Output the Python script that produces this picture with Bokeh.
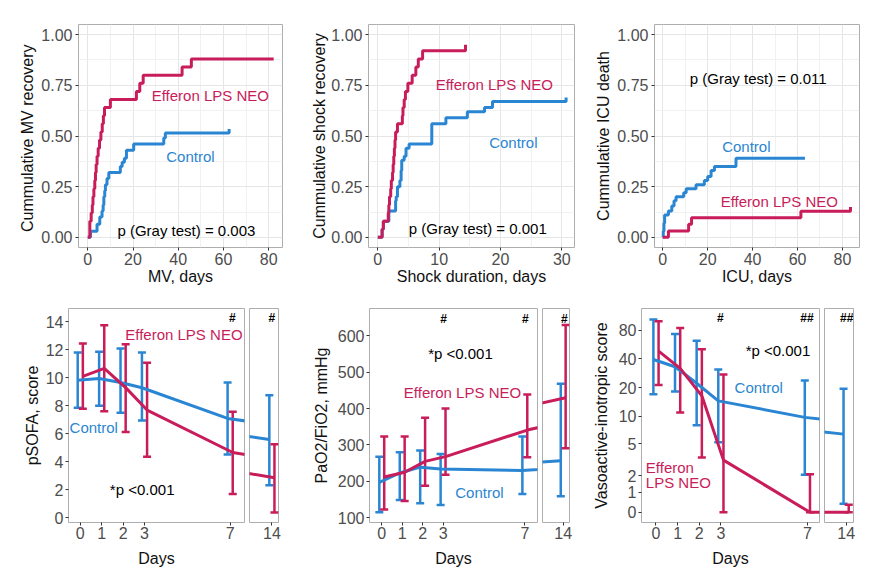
import numpy as np
from bokeh.plotting import figure
from bokeh.models import (FixedTicker, Range1d, Label, Whisker, TeeHead, ColumnDataSource,
                          NumeralTickFormatter, CustomJSTickFormatter)
from bokeh.layouts import row, column
from bokeh.embed import file_html
from bokeh.resources import INLINE

RED = "#C81D5A"
BLUE = "#2A86D2"
FONT = "Liberation Sans"
TICK_COL = "#4D4D4D"
BORDER = "#AEAEAE"

# ---------------- Top row: cumulative incidence (step) data ----------------
mv_eff_t = [0, 0.9, 1.5, 2.0, 2.3, 2.7, 3.1, 3.4, 3.7, 4.1, 4.6, 5.2, 5.8, 6.4, 6.9, 7.4, 10.0, 21.5, 23.0, 24.5, 41.7, 45.8, 82.2]
mv_eff_v = [0, 0.08, 0.12, 0.16, 0.20, 0.24, 0.28, 0.32, 0.36, 0.40, 0.44, 0.48, 0.52, 0.56, 0.60, 0.64, 0.68, 0.72, 0.76, 0.80, 0.84, 0.88, 0.88]
mv_ctl_t = [0, 1.2, 4.1, 5.3, 6.3, 6.8, 7.1, 7.5, 7.8, 8.5, 9.3, 14.4, 15.2, 16.2, 17.1, 20.3, 33.6, 34.3, 62.5]
mv_ctl_v = [0, 0.03, 0.065, 0.10, 0.13, 0.16, 0.20, 0.23, 0.26, 0.29, 0.32, 0.35, 0.37, 0.39, 0.43, 0.46, 0.49, 0.515, 0.535]

sh_eff_t = [0, 0.7, 0.9, 1.7, 1.8, 1.9, 2.1, 2.2, 2.4, 2.5, 2.6, 2.7, 2.8, 2.9, 3.2, 4.0, 4.1, 4.3, 4.5, 4.9, 5.6, 6.2, 6.6, 7.3, 14.3]
sh_eff_v = [0, 0.04, 0.08, 0.12, 0.16, 0.20, 0.24, 0.28, 0.32, 0.36, 0.40, 0.44, 0.48, 0.52, 0.56, 0.60, 0.64, 0.68, 0.72, 0.76, 0.80, 0.84, 0.88, 0.92, 0.95]
sh_ctl_t = [0, 0.7, 0.9, 1.8, 2.9, 3.0, 3.2, 3.6, 3.8, 3.9, 4.3, 4.6, 5.1, 8.8, 11.1, 14.6, 17.4, 18.7, 30.7]
sh_ctl_v = [0, 0.04, 0.08, 0.13, 0.18, 0.20, 0.25, 0.28, 0.33, 0.38, 0.40, 0.44, 0.46, 0.56, 0.59, 0.62, 0.64, 0.67, 0.69]

icu_ctl_t = [0, 0.2, 0.5, 0.8, 2.5, 4.0, 5.0, 5.9, 9.3, 10.4, 14.8, 18.5, 20.0, 21.5, 23.0, 32.6, 63.3]
icu_ctl_v = [0, 0.03, 0.07, 0.11, 0.13, 0.155, 0.18, 0.20, 0.22, 0.24, 0.26, 0.28, 0.30, 0.33, 0.35, 0.39, 0.39]
icu_eff_t = [0, 2.5, 11.5, 12.8, 61.5, 83.6]
icu_eff_v = [0, 0.032, 0.065, 0.097, 0.129, 0.15]

# ---------------- Bottom row: daily mean with error bars ----------------
days = [0, 1, 2, 3, 7, 14]

sofa_ctl = [9.83, 9.95, 9.67, 9.29, 7.1, 5.6]
sofa_ctl_lo = [7.86, 8.0, 7.5, 6.95, 4.52, 2.33]
sofa_ctl_hi = [11.8, 11.86, 12.1, 11.8, 9.67, 8.76]
sofa_eff = [10.1, 10.67, 9.3, 7.7, 4.67, 2.86]
sofa_eff_lo = [7.8, 7.62, 6.14, 4.36, 1.71, 0.38]
sofa_eff_hi = [12.45, 13.76, 12.4, 11.07, 7.57, 5.26]

pf_ctl = [197, 223, 239, 234, 230, 257]
pf_ctl_lo = [115, 149, 140, 135, 165, 159]
pf_ctl_hi = [268, 280, 285, 275, 323, 468]
pf_eff = [212, 225, 255, 268, 341, 430]
pf_eff_lo = [123, 146, 188, 218, 266, 291]
pf_eff_hi = [323, 323, 375, 400, 439, 630]

vis_ctl = [39.4, 33.1, 22.2, 14.5, 9.7, 6.4]
vis_ctl_lo = [17.0, 18.2, 8.0, 5.2, 2.06, 0.41]
vis_ctl_hi = [103, 72.6, 62, 31.0, 23.7, 19.4]
vis_eff = [48.1, 31.8, 16.4, 3.22, 0, 0]
vis_eff_lo = [21.3, 10.9, 3.47, 0, 0, 0]
vis_eff_hi = [99, 83.8, 50.4, 27.5, 2.1, 0.37]

km_y_ticks = [0, 0.25, 0.5, 0.75, 1.0]
km_y_minor = [0.125, 0.375, 0.625, 0.875]
day_ticks_main = [0, 1, 2, 3, 7]
day_ticks_late = [14]
sofa_ticks = [0, 2, 4, 6, 8, 10, 12, 14]
pf_ticks = [100, 200, 300, 400, 500, 600]
vis_tick_labels = [0, 1, 2, 5, 10, 20, 40, 80]


def pslog(v):
    return np.arcsinh(np.asarray(v, dtype=float) / 2.0)


def style(p, xlab=None, ylab=None, ylab_standoff=5, xlab_standoff=0):
    p.outline_line_color = BORDER
    p.outline_line_width = 1
    p.background_fill_color = "white"
    p.border_fill_color = "white"
    for ax in p.axis:
        ax.axis_line_color = None
        ax.major_tick_line_color = "#333333"
        ax.major_tick_out = 3
        ax.major_tick_in = 0
        ax.minor_tick_line_color = None
        ax.major_label_text_font = FONT
        ax.major_label_text_font_size = "16px"
        ax.major_label_text_color = TICK_COL
        ax.major_label_standoff = 2
        ax.axis_label_text_font = FONT
        ax.axis_label_text_font_size = "16px"
        ax.axis_label_text_font_style = "normal"
        ax.axis_label_text_color = "#111111"
    p.xaxis.major_label_standoff = 1
    if xlab is not None:
        p.xaxis.axis_label = xlab
        p.xaxis.axis_label_standoff = xlab_standoff
    if ylab is not None:
        p.yaxis.axis_label = ylab
        p.yaxis.axis_label_standoff = ylab_standoff


def add_label(p, x, y, text, color, size="15px", align="center", bold=False):
    p.add_layout(Label(x=x, y=y, text=text, text_color=color, text_font=FONT,
                       text_font_size=size, text_align=align, text_baseline="middle",
                       text_font_style="bold" if bold else "normal"))


def km_fig(xr, xticks, xminor, xlab, ylab, fw, left, right, curves, labels, standoff):
    p = figure(frame_width=fw, frame_height=223, x_range=Range1d(*xr), y_range=Range1d(-0.05, 1.05),
               toolbar_location=None, output_backend="svg",
               min_border_left=left, min_border_right=right, min_border_top=24, min_border_bottom=45)
    style(p, xlab, ylab, standoff, 0)
    p.xaxis.ticker = FixedTicker(ticks=xticks, minor_ticks=xminor)
    p.yaxis.ticker = FixedTicker(ticks=km_y_ticks, minor_ticks=km_y_minor)
    p.yaxis.formatter = NumeralTickFormatter(format="0.00")
    p.grid.grid_line_color = "#E6E6E6"
    p.grid.grid_line_width = 1
    p.grid.minor_grid_line_color = "#F1F1F1"
    p.grid.minor_grid_line_width = 1
    for t, v, col in curves:
        p.step(t, v, mode="after", line_color=col, line_width=3)
    for (x, y, text, col) in labels:
        add_label(p, x, y, text, col)
    return p


tl = km_fig((-4.1, 86.1), [0, 20, 40, 60, 80], [10, 30, 50, 70], "MV, days", "Cummulative MV  recovery",
            204, 78, 18,
            [(mv_ctl_t, mv_ctl_v, BLUE), (mv_eff_t, mv_eff_v, RED)],
            [(54.2, 0.70, "Efferon LPS NEO", RED), (45.4, 0.40, "Control", BLUE),
             (43.6, 0.036, "p (Gray test) = 0.003", "black")], 2)
tm = km_fig((-1.52, 32.07), [0, 10, 20, 30], [5, 15, 25], "Shock duration, days", "Cummulative shock recovery",
            206, 68, 18,
            [(sh_ctl_t, sh_ctl_v, BLUE), (sh_eff_t, sh_eff_v, RED)],
            [(19.0, 0.755, "Efferon LPS NEO", RED), (22.1, 0.47, "Control", BLUE),
             (16.3, 0.044, "p (Gray test) = 0.001", "black")], 0)
tr = km_fig((-3.7, 87.6), [0, 20, 40, 60, 80], [10, 30, 50, 70], "ICU, days", "Cummulative ICU death",
            205, 58, 22,
            [(icu_ctl_t, icu_ctl_v, BLUE), (icu_eff_t, icu_eff_v, RED)],
            [(42.5, 0.783, "p (Gray test) = 0.011", "black"), (37.2, 0.446, "Control", BLUE),
             (51.9, 0.179, "Efferon LPS NEO", RED)], 2)

DODGE = 0.12


def day_panel(yr, yticks, ylab, ctl, ctl_lo, ctl_hi, eff, eff_lo, eff_hi,
              xr_main, xr_late, fw, fw2, left, right2, standoff, formatter=None):
    common = dict(frame_height=214, y_range=Range1d(*yr), toolbar_location=None, output_backend="svg",
                  min_border_top=16, min_border_bottom=48)
    p = figure(frame_width=fw, x_range=Range1d(*xr_main), min_border_left=left, min_border_right=2, **common)
    q = figure(frame_width=fw2, x_range=Range1d(*xr_late), min_border_left=3, min_border_right=right2,
               y_axis_location=None, **common)
    style(p, "Days", ylab, standoff, 8)
    style(q)
    p.xaxis.ticker = FixedTicker(ticks=day_ticks_main)
    q.xaxis.ticker = FixedTicker(ticks=day_ticks_late)
    p.yaxis.ticker = FixedTicker(ticks=yticks)
    if formatter is not None:
        p.yaxis.formatter = formatter
    for fig in (p, q):
        fig.grid.grid_line_color = None
    d = np.asarray(days, dtype=float)
    for mean, lo, hi, col, off in ((ctl, ctl_lo, ctl_hi, BLUE, -DODGE), (eff, eff_lo, eff_hi, RED, DODGE)):
        x = d + off
        for fig, mask in ((p, d <= 7), (q, d > 7)):
            src = ColumnDataSource(dict(x=x[mask], lo=np.asarray(lo)[mask], hi=np.asarray(hi)[mask]))
            fig.add_layout(Whisker(source=src, base="x", lower="lo", upper="hi",
                                   line_color=col, line_width=2.5,
                                   lower_head=TeeHead(size=8, line_color=col, line_width=2.5),
                                   upper_head=TeeHead(size=8, line_color=col, line_width=2.5)))
            fig.line(x, mean, line_color=col, line_width=3)
    return p, q


# pSOFA
bl, bl2 = day_panel((-0.33, 14.95), sofa_ticks, "pSOFA, score",
                    sofa_ctl, sofa_ctl_lo, sofa_ctl_hi, sofa_eff, sofa_eff_lo, sofa_eff_hi,
                    (-0.55, 7.67), (12.95, 14.31), 176, 29, 68, 22, 2)
add_label(bl, 4.84, 13.1, "Efferon LPS NEO", RED)
add_label(bl, 0.63, 6.43, "Control", BLUE)
add_label(bl, 2.89, 2.03, "*p <0.001", "black")
add_label(bl, 7.1, 14.3, "#", "black", "12px", bold=True)
add_label(bl2, 14.0, 14.3, "#", "black", "12px", bold=True)

# PaO2/FiO2
bm, bm2 = day_panel((87, 675), pf_ticks, "PaO2/FiO2, mmHg",
                    pf_ctl, pf_ctl_lo, pf_ctl_hi, pf_eff, pf_eff_lo, pf_eff_hi,
                    (-0.6, 7.62), (12.98, 14.31), 168, 27, 69, 20, 5)
add_label(bm, 3.85, 551, "*p <0.001", "black")
add_label(bm, 3.95, 444, "Efferon LPS NEO", RED)
add_label(bm, 4.78, 170, "Control", BLUE)
add_label(bm, 3.02, 646, "#", "black", "12px", bold=True)
add_label(bm, 7.02, 646, "#", "black", "12px", bold=True)
add_label(bm2, 14.05, 646, "#", "black", "12px", bold=True)

# Vasoactive-inotropic score (pseudo-log axis)
vis_fmt = CustomJSTickFormatter(code="return String(Math.round(2*Math.sinh(tick)));")
br, br2 = day_panel((-0.245, 4.9), list(pslog(vis_tick_labels)), "Vasoactive-inotropic score",
                    pslog(vis_ctl), pslog(vis_ctl_lo), pslog(vis_ctl_hi),
                    pslog(vis_eff), pslog(vis_eff_lo), pslog(vis_eff_hi),
                    (-0.67, 7.56), (13.0, 14.34), 178, 29, 49, 27, 6, vis_fmt)
add_label(br, 5.64, 3.89, "*p <0.001", "black")
add_label(br, 4.75, 3.01, "Control", BLUE)
add_label(br, -0.47, 1.086, "Efferon", RED, align="left")
add_label(br, -0.47, 0.705, "LPS NEO", RED, align="left")
add_label(br, 2.98, 4.67, "#", "black", "12px", bold=True)
add_label(br, 6.98, 4.67, "##", "black", "12px", bold=True)
add_label(br2, 14.03, 4.67, "##", "black", "12px", bold=True)

layout = column(row(tl, tm, tr), row(bl, bl2, bm, bm2, br, br2))

open("out.html", "w").write(file_html(layout, INLINE))
